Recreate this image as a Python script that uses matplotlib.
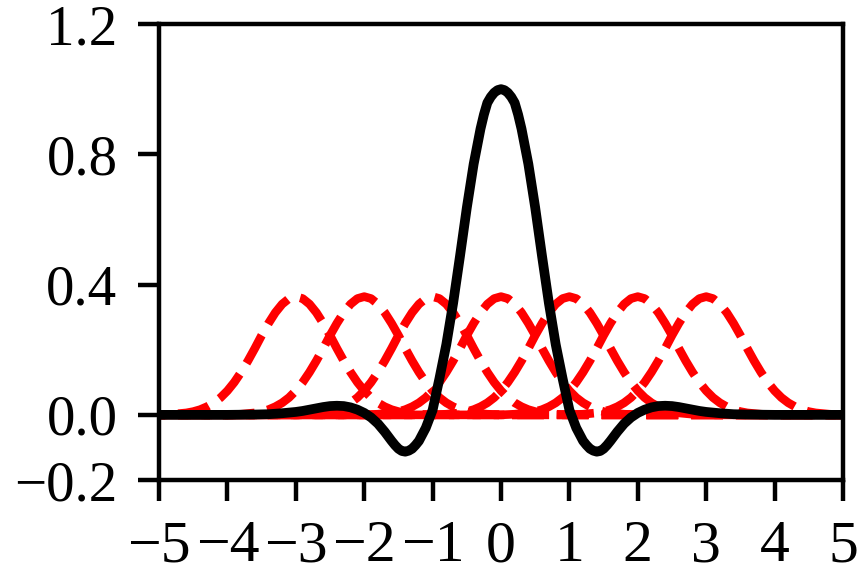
import matplotlib
matplotlib.use("Agg")
import matplotlib.pyplot as plt
import numpy as np

plt.rcParams['font.family'] = ['Liberation Serif', 'DejaVu Serif']

# red basis bumps: centers and common profile (offset from center -> value)
red_centers = [-3, -2, -1, 0, 1, 2, 3]
red_offsets = [-8.0, -2.0, -1.9, -1.8, -1.7, -1.6, -1.5, -1.4, -1.3, -1.2, -1.1, -1.0,
               -0.9, -0.8, -0.7, -0.6, -0.5, -0.4, -0.3, -0.2, -0.1, 0.0,
               0.1, 0.2, 0.3, 0.4, 0.5, 0.6, 0.7, 0.8, 0.9, 1.0,
               1.1, 1.2, 1.3, 1.4, 1.5, 1.6, 1.7, 1.8, 1.9, 2.0, 8.0]
red_values = [0.0, 0.0, 0.001, 0.002, 0.004, 0.006, 0.010, 0.016, 0.025, 0.037, 0.053, 0.074,
              0.100, 0.131, 0.166, 0.204, 0.244, 0.281, 0.314, 0.340, 0.357, 0.363,
              0.357, 0.340, 0.314, 0.281, 0.244, 0.204, 0.166, 0.131, 0.100, 0.074,
              0.053, 0.037, 0.025, 0.016, 0.010, 0.006, 0.004, 0.002, 0.001, 0.0, 0.0]

# black cardinal function (right half; the curve is even)
black_x_half = [0.0, 0.05, 0.1, 0.15, 0.2, 0.25, 0.3, 0.4, 0.5, 0.6, 0.7, 0.8, 0.9, 1.0,
                1.1, 1.2, 1.25, 1.3, 1.35, 1.4, 1.45, 1.5, 1.55, 1.6, 1.7, 1.8, 1.9,
                2.0, 2.1, 2.2, 2.3, 2.4, 2.5, 2.6, 2.7, 2.8, 2.9, 3.0, 3.2, 3.4, 3.6,
                4.0, 4.5, 5.0]
black_y_half = [1.000, 0.997, 0.989, 0.976, 0.958, 0.922, 0.878, 0.770, 0.636, 0.487, 0.343,
                0.216, 0.112, 0.015,
                -0.040, -0.080, -0.093, -0.104, -0.110, -0.113, -0.111, -0.104, -0.093, -0.080,
                -0.052, -0.027, -0.008,
                0.006, 0.016, 0.023, 0.027, 0.028, 0.027, 0.024, 0.020, 0.016, 0.012, 0.009,
                0.005, 0.002, 0.001, 0.0, 0.0, 0.0]

x_ticks = [-5, -4, -3, -2, -1, 0, 1, 2, 3, 4, 5]
y_ticks = [-0.2, 0.0, 0.4, 0.8, 1.2]

black_x = [-v for v in black_x_half[:0:-1]] + black_x_half
black_y = black_y_half[:0:-1] + black_y_half

fig = plt.figure(figsize=(8.63, 5.77), dpi=100)
ax = fig.add_axes([0.1843, 0.1681, 0.9768 - 0.1843, 0.9584 - 0.1681])

for c in red_centers:
    xs = np.array(red_offsets) + c
    ax.plot(xs, red_values, color='red', lw=6.2, linestyle=(0, (3.7, 1.5)), zorder=2)

ax.plot(black_x, black_y, color='black', lw=7.0, zorder=3, solid_capstyle='round',
        solid_joinstyle='round')

ax.set_xlim(-5, 5)
ax.set_ylim(-0.2, 1.2)
ax.set_xticks(x_ticks)
ax.set_yticks(y_ticks)
ax.set_xticklabels([f"{v}".replace('-', '\u2212') for v in x_ticks])
ax.set_yticklabels([f"{v:.1f}".replace('-', '\u2212') for v in y_ticks])

for s in ax.spines.values():
    s.set_linewidth(3.2)
ax.tick_params(direction='out', length=15, width=3.2)
ax.tick_params(axis='x', labelsize=43, pad=14)
ax.tick_params(axis='y', labelsize=41, pad=15)

fig.savefig('out.png', dpi=100)
